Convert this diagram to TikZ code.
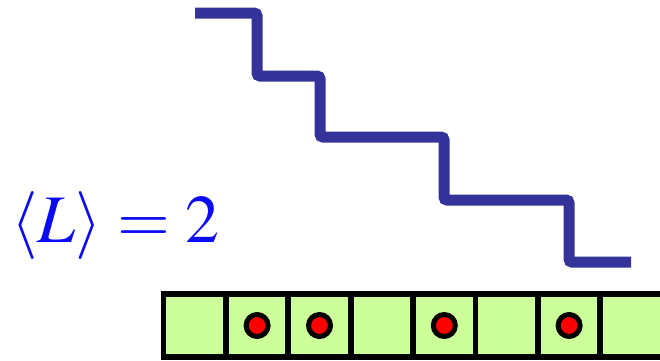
\documentclass[tikz,border=0pt]{standalone}
\usepackage{mathptmx}
\definecolor{stair}{RGB}{51,51,153}
\definecolor{cellgreen}{RGB}{204,255,153}
\definecolor{txtblue}{RGB}{10,10,245}
\tikzset{
  cellbox/.style={draw=black, line width=5.8pt, fill=cellgreen, minimum size=62.4pt, inner sep=0pt, outer sep=0pt},
  particle/.style={circle, draw=black, line width=5pt, fill=red, minimum size=22pt, inner sep=0pt},
  stairline/.style={draw=stair, line width=11pt, rounded corners=3pt}
}
\begin{document}
\begin{tikzpicture}[x=1pt, y=-1pt]
\useasboundingbox (0,0) rectangle (660,360);
% staircase
\draw[stairline] (195,13) -- (257,13) -- (257,76) -- (320,76) -- (320,137) -- (444,137) -- (444,200) -- (569,200) -- (569,262) -- (631,262);
% label
\node[anchor=base west, inner sep=0pt, text=txtblue, font=\fontsize{68}{76}\selectfont] (lbl) at (11,242) {$\langle L\rangle = 2$};
% cells
\foreach \i in {1,...,8} {
  \node[cellbox] (c\i) at ({163.5+62.4*(\i-0.5)},325.5) {};
}
\foreach \i in {2,3,5,7} {
  \node[particle] (p\i) at (c\i.center) {};
}
\end{tikzpicture}
\end{document}
